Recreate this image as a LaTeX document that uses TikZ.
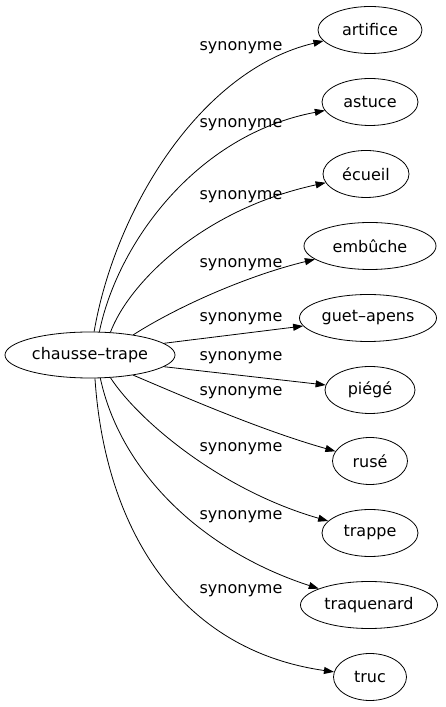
\documentclass[tikz,border=0pt]{standalone}
\usepackage{fontspec}
\setmainfont{DejaVu Sans}
\usepackage{tikz}
\usetikzlibrary{shapes.geometric, arrows.meta}

\begin{document}
\begin{tikzpicture}[
    x=1pt, y=1pt,
    source/.style={ellipse, draw, line width=0.8pt, inner sep=0pt, minimum width=170pt, minimum height=46pt, font=\fontsize{16pt}{19pt}\selectfont},
    target/.style={ellipse, draw, line width=0.8pt, inner sep=0pt, minimum width=#1, minimum height=47pt, font=\fontsize{16pt}{19pt}\selectfont},
    arrow/.style={-{Triangle[length=10pt, width=7pt]}, line width=0.8pt},
    rel/.style={font=\fontsize{16pt}{19pt}\selectfont, inner sep=0pt}
]
\useasboundingbox (0,0) rectangle (446,707);

% Center: source word
\node[source] (chausse) at (90,352) {chausse–trape};

% Synonyms
\node[target=104pt] (artifice) at (370,677) {artifice};
\node[target=96pt] (astuce) at (370,605) {astuce};
\node[target=86pt] (ecueil) at (366,533) {écueil};
\node[target=132pt] (embuche) at (370,461) {embûche};
\node[target=137pt] (guet) at (368,389) {guet–apens};
\node[target=90pt] (piege) at (370,317) {piégé};
\node[target=75pt] (ruse) at (370,246) {rusé};
\node[target=96pt] (trappe) at (370,174) {trappe};
\node[target=137pt] (traquenard) at (369,102) {traquenard};
\node[target=73pt] (truc) at (370,30) {truc};

% Arrows
\draw[arrow] (chausse.80) .. controls (115,497) and (200,637) .. (artifice);
\draw[arrow] (chausse.68) .. controls (117,462) and (195,572) .. (astuce);
\draw[arrow] (chausse.48) .. controls (128,422) and (200,497) .. (ecueil);
\draw[arrow] (chausse.25) .. controls (180,402) and (250,432) .. (embuche);
\draw[arrow] (chausse.9) -- (guet);
\draw[arrow] (chausse.-9) -- (piege);
\draw[arrow] (chausse.-25) .. controls (180,312) and (260,277) .. (ruse);
\draw[arrow] (chausse.-48) .. controls (138,287) and (220,217) .. (trappe);
\draw[arrow] (chausse.-66) .. controls (120,237) and (200,157) .. (traquenard);
\draw[arrow] (chausse.-78) .. controls (105,177) and (180,57) .. (truc);

% Edge labels
\node[rel] (l-artifice) at (241,659) {synonyme};
\node[rel] (l-astuce) at (241,582) {synonyme};
\node[rel] (l-ecueil) at (241,510) {synonyme};
\node[rel] (l-embuche) at (241,442) {synonyme};
\node[rel] (l-guet) at (241,388) {synonyme};
\node[rel] (l-piege) at (241,349) {synonyme};
\node[rel] (l-ruse) at (241,314) {synonyme};
\node[rel] (l-trappe) at (241,258) {synonyme};
\node[rel] (l-traquenard) at (241,190) {synonyme};
\node[rel] (l-truc) at (241,116) {synonyme};

\end{tikzpicture}
\end{document}
